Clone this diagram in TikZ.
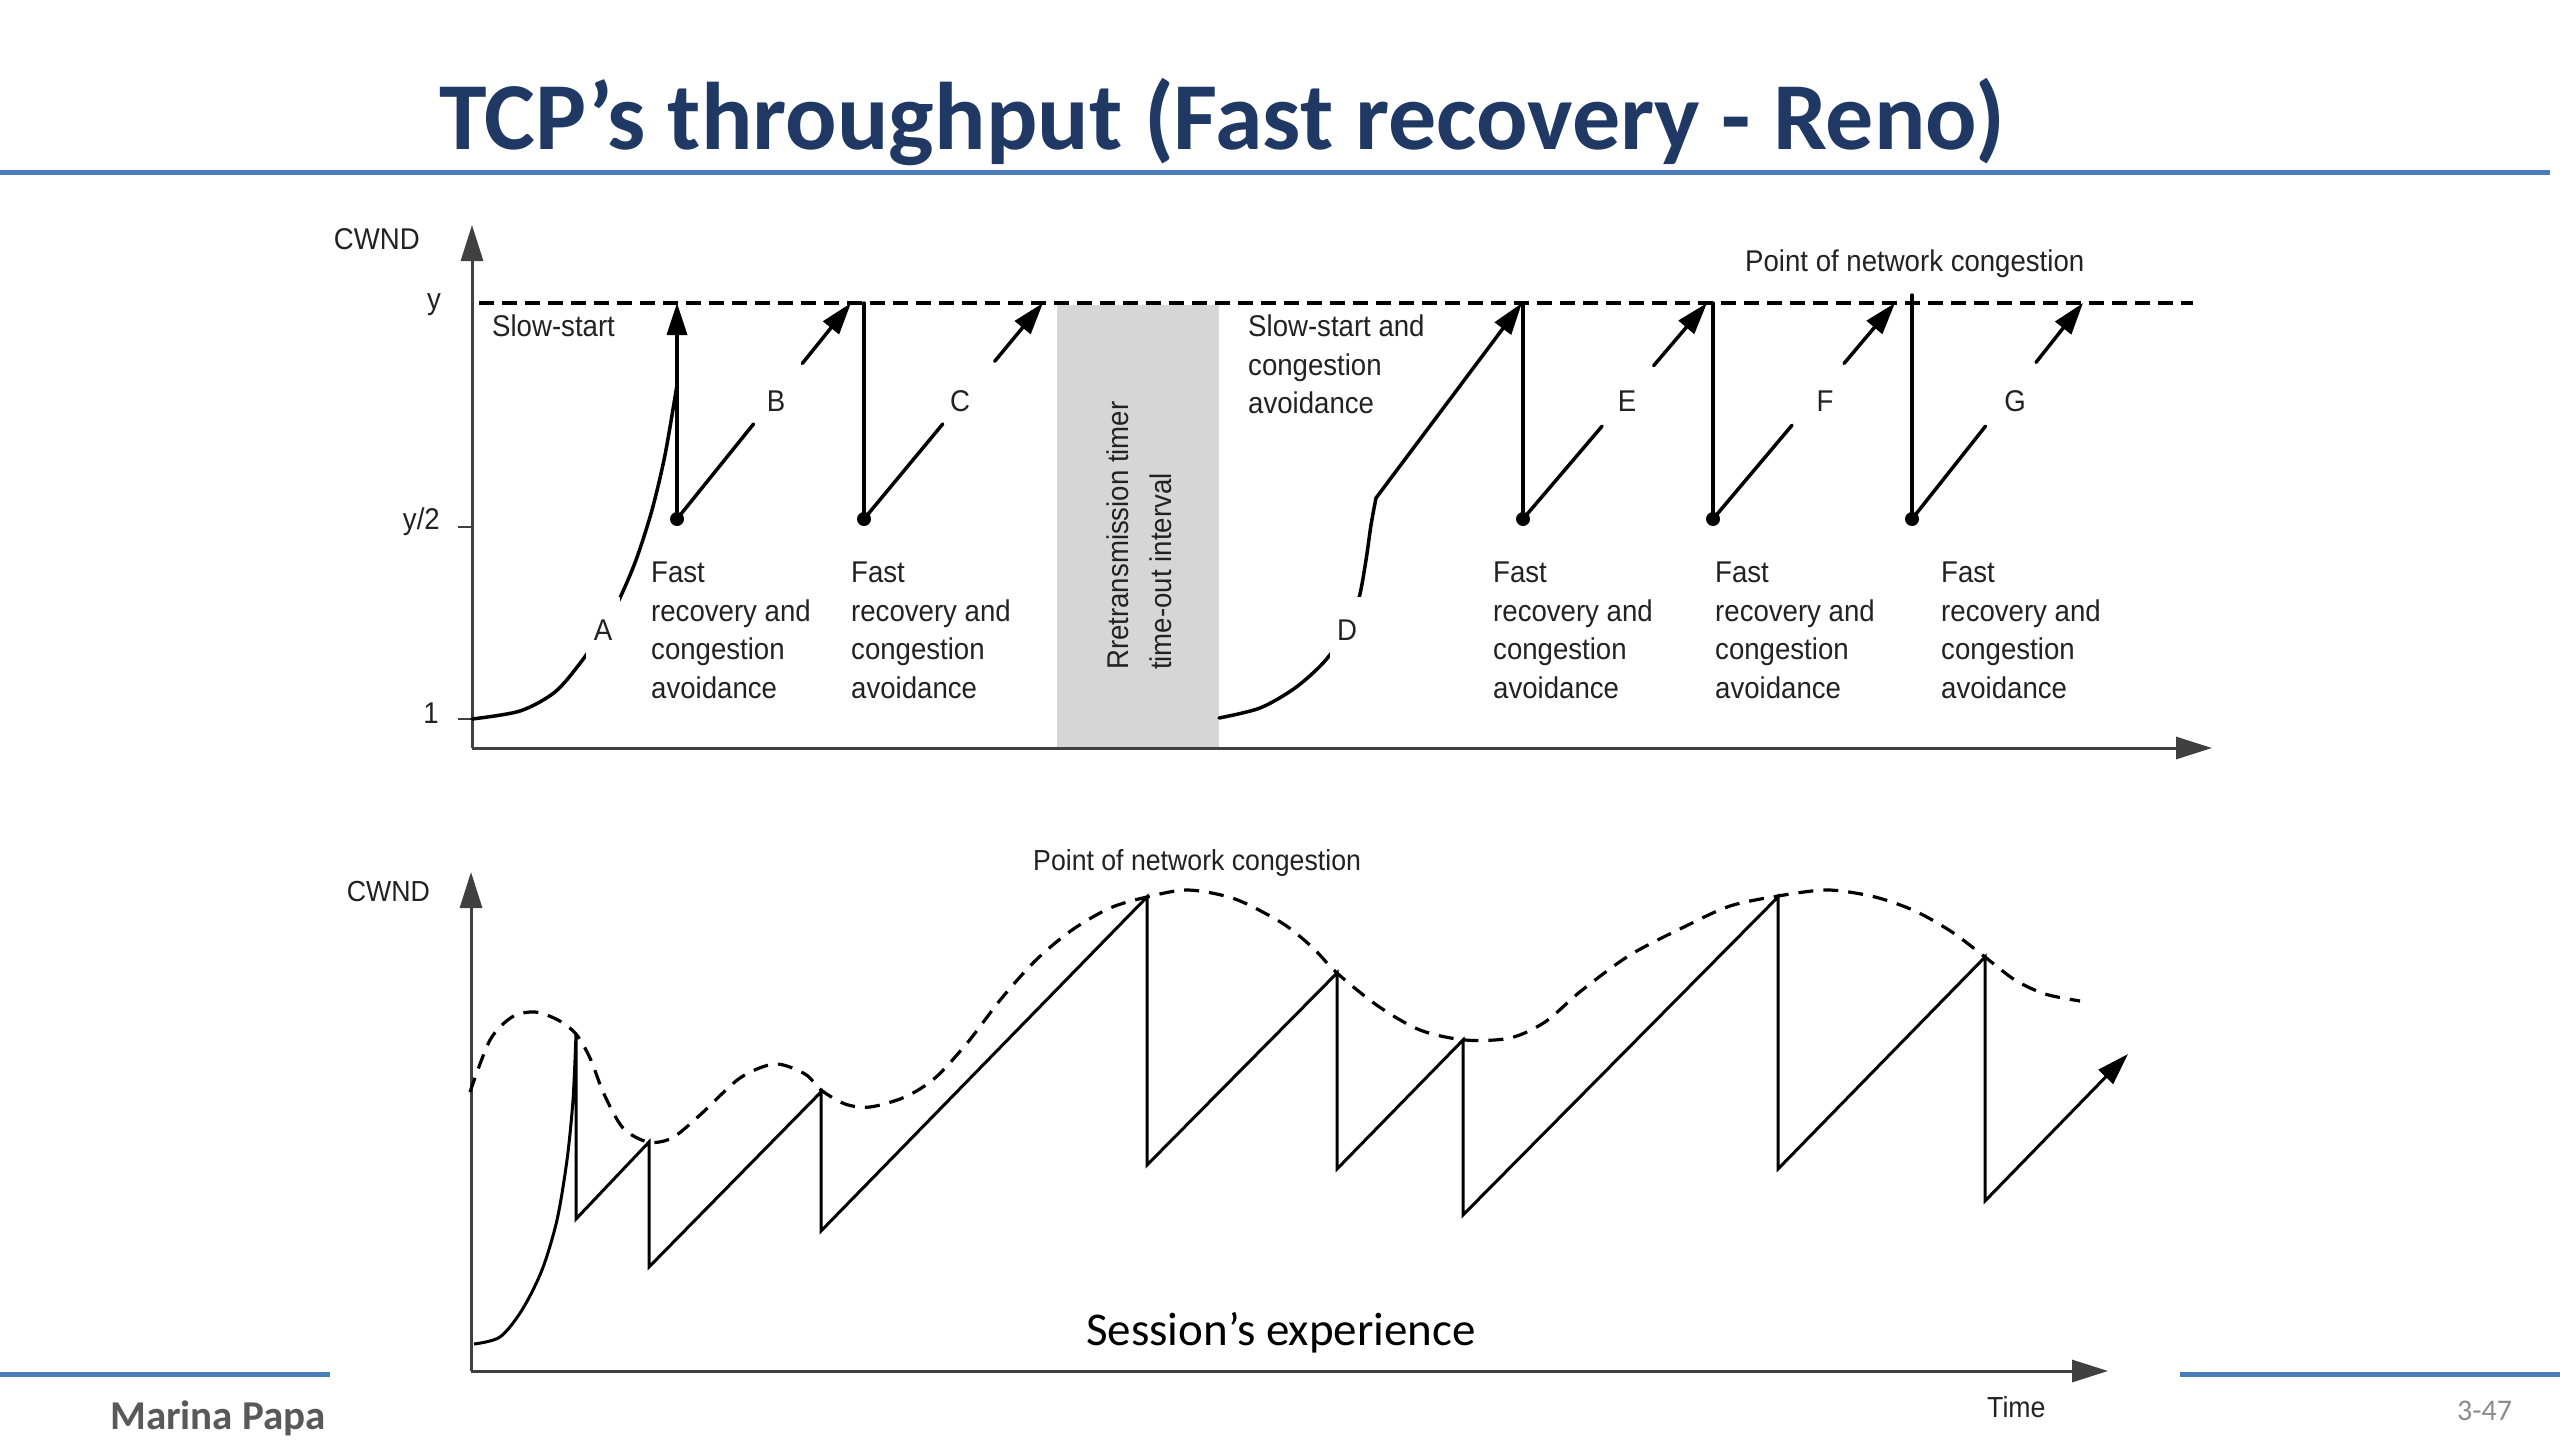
\documentclass[tikz,border=0pt]{standalone}
\usepackage{fontspec}
\setmainfont{Carlito}
\newfontfamily\chartfont[FakeStretch=0.92]{Liberation Sans}
\usetikzlibrary{arrows.meta,calc}
\definecolor{titleblue}{HTML}{1F3864}
\definecolor{ruleblue}{HTML}{4A7EBB}
\definecolor{boxgray}{HTML}{D6D6D6}
\definecolor{ink}{HTML}{222222}
\definecolor{axisgray}{HTML}{404040}
\definecolor{footgray}{HTML}{595959}
\definecolor{pagegray}{HTML}{8C8C8C}
\begin{document}
\begin{tikzpicture}[x=1pt,y=-1pt,
  chart/.style={font=\chartfont\fontsize{30}{38.5}\selectfont, text=ink, inner sep=0pt},
  chartsmall/.style={font=\chartfont\fontsize{29}{36}\selectfont, text=ink, inner sep=0pt},
  lettergap/.style={chart, fill=white, minimum width=34pt, minimum height=66pt},
  axisline/.style={draw=axisgray, line width=3pt, -{Triangle[length=36pt,width=22pt]}},
  tickline/.style={draw=axisgray, line width=2.5pt},
  solidline/.style={draw=black, line width=3.5pt, line cap=round},
  bline/.style={draw=black, line width=3pt, line join=miter},
  arrowend/.style={-{Triangle[length=32pt,width=20pt]}},
  dashline/.style={draw=black, line width=3.2pt, dash pattern=on 15pt off 8pt},
  envdash/.style={draw=black, line width=3.2pt, dash pattern=on 15pt off 10pt},
  rulestyle/.style={draw=ruleblue, line width=5pt},
  dotfill/.style={fill=black}
]
\useasboundingbox (0,0) rectangle (2560,1440);
\fill[white] (0,0) rectangle (2560,1440);

% ---------- title ----------
\node[anchor=base west, inner sep=0pt, text=titleblue,
      font=\bfseries\fontsize{96}{115}\selectfont] (title) at (439,149)
      {TCP’s throughput (Fast recovery - Reno)};
\coordinate (ruleL) at (0,172);
\coordinate (ruleR) at (2550,172);
\draw[rulestyle] (ruleL) -- (ruleR);

% ---------- top chart ----------
\node[fill=boxgray, inner sep=0pt, minimum width=162pt, minimum height=442pt,
      anchor=north west] (rto) at (1057,305) {};
\node[chart, rotate=90, anchor=west, align=left,
      font=\chartfont\fontsize{30}{43}\selectfont] (rtotext) at (1139,670)
      {Rretransmission timer\\time-out interval};

\coordinate (O1) at (472,748);
\coordinate (Y1) at (472,225);
\coordinate (X1) at (2212,748);
\draw[axisline] (O1) -- (Y1);
\draw[axisline] (O1) -- (X1);

\coordinate (tk2a) at (458,527); \coordinate (tk2b) at (472,527);
\coordinate (tk1a) at (458,719); \coordinate (tk1b) at (472,719);
\draw[tickline] (tk2a) -- (tk2b);
\draw[tickline] (tk1a) -- (tk1b);

\node[chart, anchor=mid east] (cwnd1) at (420,247) {CWND};
\node[chart, anchor=mid east] (ylab) at (441,307) {y};
\node[chart, anchor=mid east] (y2lab) at (440,527) {y/2};
\node[chart, anchor=mid east] (onelab) at (439,721) {1};

\coordinate (dashL) at (479,303);
\coordinate (dashR) at (2193,303);
\draw[dashline] (dashL) -- (dashR);

% A: slow start
\coordinate (dA) at (677,519);
\coordinate (tA) at (677,303);
\draw[solidline] plot[smooth] coordinates {(472,719) (520,711) (555,692) (581,662) (603,630) (619,600) (636,560) (652,510) (665,455) (677,385)};
\node[lettergap] (labA) at (603,630) {A};
\draw[solidline, arrowend] (dA) -- (tA);

% B
\coordinate (tB) at (851,303);
\draw[solidline] (dA) -- ($(dA)!0.44!(tB)$);
\draw[solidline, arrowend] ($(dA)!0.72!(tB)$) -- (tB);
\node[chart] (labB) at (776,401) {B};

% C
\coordinate (vC) at (864,303);
\coordinate (dC) at (864,519);
\coordinate (tC) at (1043,303);
\draw[solidline] (vC) -- (dC);
\draw[solidline] (dC) -- ($(dC)!0.44!(tC)$);
\draw[solidline, arrowend] ($(dC)!0.73!(tC)$) -- (tC);
\node[chart] (labC) at (960,401) {C};

% D
\coordinate (tD) at (1522,303);
\draw[solidline, arrowend] plot[smooth] coordinates {(1219,718) (1260,708) (1295,688) (1324,662) (1347,630) (1359,598) (1366,560) (1371,525) (1376,498)} -- (tD);
\node[lettergap] (labD) at (1347,630) {D};

% E
\coordinate (vE) at (1523,303);
\coordinate (dE) at (1523,519);
\coordinate (tE) at (1707,303);
\draw[solidline] (vE) -- (dE);
\draw[solidline] (dE) -- ($(dE)!0.43!(tE)$);
\draw[solidline, arrowend] ($(dE)!0.71!(tE)$) -- (tE);
\node[chart] (labE) at (1627,401) {E};

% F
\coordinate (vF) at (1713,303);
\coordinate (dF) at (1713,519);
\coordinate (tF) at (1895,303);
\draw[solidline] (vF) -- (dF);
\draw[solidline] (dF) -- ($(dF)!0.434!(tF)$);
\draw[solidline, arrowend] ($(dF)!0.72!(tF)$) -- (tF);
\node[chart] (labF) at (1825,401) {F};

% G
\coordinate (vG) at (1912,295);
\coordinate (dG) at (1912,519);
\coordinate (tG) at (2083,303);
\draw[solidline] (vG) -- (dG);
\draw[solidline] (dG) -- ($(dG)!0.43!(tG)$);
\draw[solidline, arrowend] ($(dG)!0.725!(tG)$) -- (tG);
\node[chart] (labG) at (2015,401) {G};

\foreach \d in {dA,dC,dE,dF,dG} \fill[dotfill] (\d) circle[radius=7pt];

% text blocks
\node[chart, anchor=north west, align=left] (ssA) at (492,315) {Slow-start};
\node[chart, anchor=north west, align=left] (ssD) at (1248,315) {Slow-start and\\congestion\\avoidance};
\node[chart, anchor=north west, align=left] (frA) at (651,562) {Fast\\recovery and\\congestion\\avoidance};
\node[chart, anchor=north west, align=left] (frC) at (851,562) {Fast\\recovery and\\congestion\\avoidance};
\node[chart, anchor=north west, align=left] (frE) at (1493,562) {Fast\\recovery and\\congestion\\avoidance};
\node[chart, anchor=north west, align=left] (frF) at (1715,562) {Fast\\recovery and\\congestion\\avoidance};
\node[chart, anchor=north west, align=left] (frG) at (1941,562) {Fast\\recovery and\\congestion\\avoidance};
\node[chart, anchor=base west] (pnc1) at (1745,271) {Point of network congestion};

% ---------- bottom chart ----------
\coordinate (O2) at (471,1371);
\coordinate (Y2) at (471,872);
\coordinate (X2) at (2108,1371);
\draw[axisline] (O2) -- (Y2);
\draw[axisline] (O2) -- (X2);

\node[chartsmall, anchor=base east] (cwnd2) at (430,901) {CWND};
\node[chartsmall, anchor=base west] (pnc2) at (1033,870) {Point of network congestion};
\node[chartsmall, anchor=base west] (timelab) at (1987,1417) {Time};

\draw[envdash] plot[smooth] coordinates {(470,1092) (490,1040) (512,1017) (535,1012) (558,1020) (576,1034) (590,1058) (604,1094) (623,1128) (648,1142) (672,1138) (700,1115) (740,1078) (775,1064) (805,1074) (821,1090) (845,1104) (870,1107) (905,1097) (935,1078) (968,1042) (1001,999) (1036,960) (1072,930) (1110,908) (1147,897) (1188,890) (1235,899) (1282,923) (1312,947) (1337,973) (1378,1006) (1420,1030) (1465,1040) (1510,1038) (1545,1022) (1581,991) (1630,955) (1686,926) (1730,906) (1778,896) (1828,890) (1875,897) (1915,911) (1952,932) (1985,957) (2015,980) (2045,994) (2080,1001)};

\coordinate (endArrow) at (2128,1054);
\draw[bline, arrowend] plot[smooth] coordinates {(474,1344) (500,1337) (522,1310) (542,1270) (557,1220) (567,1160) (573,1100) (576,1034)}
  -- (576,1219) -- (649,1142) -- (649,1267) -- (821,1092) -- (821,1231)
  -- (1147,897) -- (1147,1165) -- (1337,973) -- (1337,1169) -- (1463,1040)
  -- (1463,1215) -- (1778,897) -- (1778,1169) -- (1985,957) -- (1985,1201)
  -- (endArrow);

\node[anchor=base west, inner sep=0pt, font=\fontsize{47}{56}\selectfont] (session) at (1086,1345) {Session’s experience};

% ---------- footer ----------
\coordinate (footLa) at (0,1374); \coordinate (footLb) at (330,1374);
\coordinate (footRa) at (2180,1374); \coordinate (footRb) at (2560,1374);
\draw[rulestyle] (footLa) -- (footLb);
\draw[rulestyle] (footRa) -- (footRb);
\node[anchor=base west, inner sep=0pt, text=footgray, font=\bfseries\fontsize{41}{49}\selectfont] (author) at (110,1429) {Marina Papa};
\node[anchor=base west, inner sep=0pt, text=pagegray, font=\fontsize{30}{36}\selectfont] (pagenum) at (2457,1420) {3-47};
\end{tikzpicture}
\end{document}
